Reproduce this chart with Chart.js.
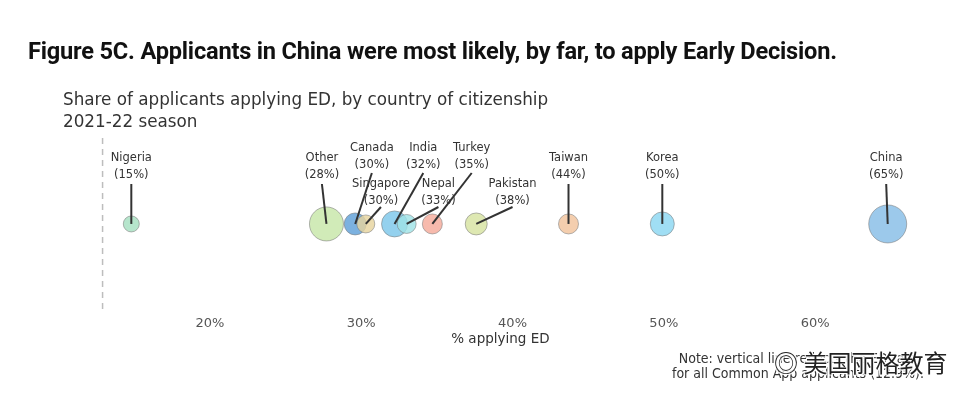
<!DOCTYPE html>
<html>
<head>
<meta charset="utf-8">
<script src="https://cdn.jsdelivr.net/npm/chart.js@4/dist/chart.umd.min.js"></script>
<style>
  html, body { margin: 0; padding: 0; background: #fff; }
  #wrap { position: relative; width: 979px; height: 405px; overflow: hidden; }
  #c { position: absolute; left: 0; top: 0; }
  .t { position: absolute; white-space: nowrap; }
  #title { left: 28px; top: 37px; font: bold 23.6px Roboto, sans-serif; color: #111; letter-spacing: -0.2px; }
  #sub { left: 63px; top: 88px; font: 16.8px "DejaVu Sans", sans-serif; color: #333; line-height: 22px; }
  #note { left: 618px; width: 360px; top: 351px; font: 14px "DejaVu Sans Condensed", "DejaVu Sans", sans-serif; color: #333; text-align: center; line-height: 15px; }
  #wm { left: 774px; top: 344px; font: 24px "Noto Sans CJK SC", sans-serif; color: #222;
        text-shadow: -1px -1px 0 #fff, 1px -1px 0 #fff, -1px 1px 0 #fff, 1px 1px 0 #fff; }
</style>
</head>
<body>
<div id="wrap">
  <canvas id="c" width="979" height="405"></canvas>
  <div class="t" id="title">Figure 5C. Applicants in China were most likely, by far, to apply Early Decision.</div>
  <div class="t" id="sub">Share of applicants applying ED, by country of citizenship<br>2021-22 season</div>
  <div class="t" id="note">Note: vertical line reflects the ED rate<br>for all Common App applicants (12.9%).</div>
  <div class="t" id="wm">◎ 美国丽格教育</div>
</div>
<script>
// ---- data ----
const countries = ["Nigeria","Other","Canada","Singapore","India","Nepal","Turkey","Pakistan","Taiwan","Korea","China"];
const pctED     = [14.8, 27.7, 29.6, 30.3, 32.2, 33.0, 34.7, 37.6, 43.7, 49.9, 64.8];
const labelPct  = ["15%","28%","30%","30%","32%","33%","35%","38%","44%","50%","65%"];
const applicantSize = [8, 17, 11, 9, 13, 9.5, 10, 11, 10, 12, 19];
const overallRate = 12.9;
const tickValues = [20, 30, 40, 50, 60];
const axisTitle = "% applying ED";
// label anchor (in % units) and label row
const labelAt   = [14.8, 27.4, 30.7, 31.3, 34.1, 35.1, 37.3, 40.0, 43.7, 49.9, 64.7];
const labelRow  = [1, 1, 0, 2, 0, 2, 0, 2, 1, 1, 1];
const colors = ["#a6dfc0","#c7e6a8","#5f9fd8","#e6d49e","#7cc6ea","#9fe3e6","#f5ab9b","#d6e3a0","#f2c39c","#8bd6f2","#86bde6"];

const rowY = [[148,165,173],[158,175,184],[184,201,207]];

const labelPlugin = {
  id: 'labels',
  beforeDatasetsDraw(chart) {
    const {ctx, chartArea, scales} = chart;
    const x = scales.x.getPixelForValue(overallRate);
    ctx.save();
    ctx.strokeStyle = '#bdbdbd';
    ctx.lineWidth = 1.5;
    ctx.setLineDash([6,5]);
    ctx.beginPath();
    ctx.moveTo(x, chartArea.top);
    ctx.lineTo(x, chartArea.bottom);
    ctx.stroke();
    ctx.restore();
  },
  afterDatasetsDraw(chart) {
    const {ctx, scales, chartArea} = chart;
    const meta = chart.getDatasetMeta(0);
    ctx.save();
    ctx.font = '11.5px "DejaVu Sans", sans-serif';
    ctx.fillStyle = '#333';
    ctx.textAlign = 'center';
    ctx.textBaseline = 'middle';
    meta.data.forEach((pt, i) => {
      const lx = scales.x.getPixelForValue(labelAt[i]);
      const r = rowY[labelRow[i]];
      ctx.fillText(countries[i], lx, r[0]);
      ctx.fillText('(' + labelPct[i] + ')', lx, r[1]);
      ctx.strokeStyle = '#333';
      ctx.lineWidth = 2;
      ctx.beginPath();
      ctx.moveTo(lx, r[2]);
      ctx.lineTo(pt.x, pt.y);
      ctx.stroke();
    });
    // axis title
    ctx.font = '13.5px "DejaVu Sans", sans-serif';
    ctx.fillStyle = '#333';
    ctx.fillText(axisTitle, scales.x.getPixelForValue(39.2), chartArea.bottom + 30);
    ctx.restore();
  }
};

new Chart(document.getElementById('c'), {
  type: 'bubble',
  data: {
    datasets: [{
      data: countries.map((c, i) => ({x: pctED[i], y: 0.5, r: applicantSize[i]})),
      backgroundColor: colors.map(c => c + 'd0'),
      borderColor: 'rgba(120,120,120,0.55)',
      borderWidth: 1,
      hoverRadius: 0
    }]
  },
  options: {
    responsive: false,
    animation: false,
    events: [],
    layout: { padding: { left: 95, right: 58, top: 138, bottom: 68.5 } },
    plugins: { legend: { display: false }, tooltip: { enabled: false } },
    scales: {
      x: {
        type: 'linear', min: 12.4, max: 67,
        grid: { display: false, drawTicks: false },
        border: { display: false },
        afterBuildTicks: s => { s.ticks = tickValues.map(v => ({value: v})); },
        ticks: { padding: 5.5, color: '#555', font: { family: 'DejaVu Sans', size: 13 }, callback: v => v + '%' },
        title: { display: false }
      },
      y: { display: false, min: 0, max: 1 }
    }
  },
  plugins: [labelPlugin]
});
</script>
</body>
</html>
